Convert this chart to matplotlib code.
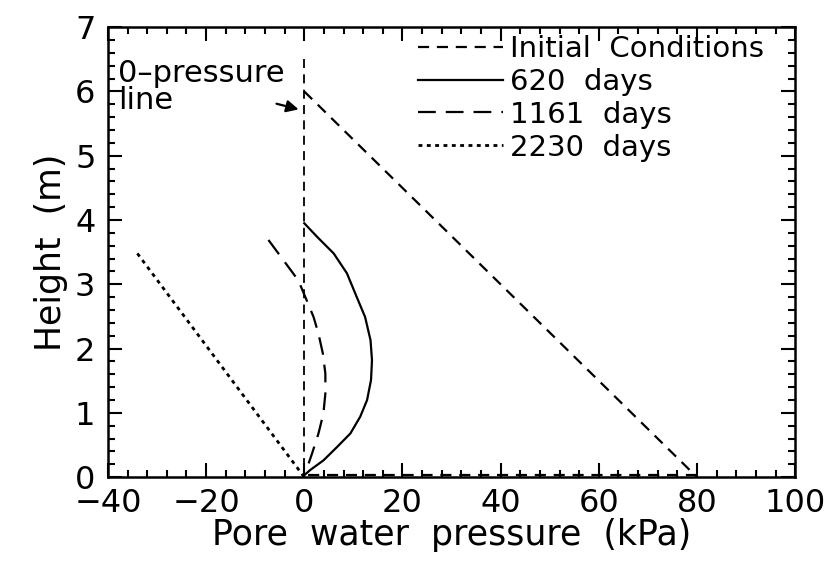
import matplotlib
matplotlib.use("Agg")
import matplotlib.pyplot as plt
from matplotlib.ticker import MultipleLocator, FuncFormatter

plt.rcParams['font.family'] = ['DejaVu Sans']

# Initial conditions (kPa, m)
init_p = [0, 80, 80, 0]
init_h = [6.0, 0.0, 0.03, 0.03]
# zero pressure line
zero_p = [0, 0]
zero_h = [6.5, 0.0]
# 620 days
d620_p = [0.0, 2.6, 6.0, 8.7, 10.7, 12.4, 13.5, 13.8, 13.6, 12.8, 11.4, 9.4, 6.7, 3.9, 1.2, 0.0]
d620_h = [3.95, 3.74, 3.48, 3.17, 2.80, 2.49, 2.13, 1.82, 1.51, 1.20, 0.94, 0.68, 0.47, 0.26, 0.11, 0.03]
# 1161 days
d1161_p = [-7.3, -4.2, -1.2, 0.5, 1.9, 2.9, 3.8, 4.3, 4.3, 3.9, 2.9, 1.6, 0.2]
d1161_h = [3.69, 3.37, 3.06, 2.75, 2.49, 2.23, 1.92, 1.61, 1.30, 0.99, 0.68, 0.37, 0.06]
# 2230 days
d2230_p = [-34.0, 0.0]
d2230_h = [3.48, 0.0]

labels = ['Initial  Conditions', '620  days', '1161  days', '2230  days']

fig = plt.figure(figsize=(8.3, 5.66), dpi=100)
ax = fig.add_axes([0.130, 0.157, 0.828, 0.795])

lw = 1.6
l0, = ax.plot(init_p[:2], init_h[:2], color='black', lw=lw, dashes=(5, 3.5))
ax.plot(init_p[2:], init_h[2:], color='black', lw=lw, dashes=(5, 3.5))
ax.plot(zero_p, zero_h, color='black', lw=1.3, dashes=(5, 3.5))
l1, = ax.plot(d620_p, d620_h, color='black', lw=lw)
l2, = ax.plot(d1161_p, d1161_h, color='black', lw=lw, dashes=(8, 4.5))
l3, = ax.plot(d2230_p, d2230_h, color='black', lw=lw + 0.4, dashes=(1.4, 1.6))

ax.set_xlim(-40, 100)
ax.set_ylim(0, 7)
ax.xaxis.set_major_locator(MultipleLocator(20))
ax.xaxis.set_minor_locator(MultipleLocator(4))
ax.yaxis.set_major_locator(MultipleLocator(1))
ax.yaxis.set_minor_locator(MultipleLocator(0.2))
ax.xaxis.set_major_formatter(FuncFormatter(lambda v, p: ('%d' % round(v)).replace('-', '\u2212')))
ax.tick_params(which='both', direction='in', top=True, right=True, width=1.5, labelsize=23)
ax.tick_params(which='major', length=10)
ax.tick_params(axis='x', which='major', pad=8)
ax.tick_params(axis='y', which='major', pad=9)
ax.tick_params(which='minor', length=5)
for s in ax.spines.values():
    s.set_linewidth(1.8)

ax.set_xlabel('Pore  water  pressure  (kPa)', fontsize=25, labelpad=-1)
ax.set_ylabel('Height  (m)', fontsize=25, labelpad=5)

leg = ax.legend([l0, l1, l2, l3], labels, loc='upper right', bbox_to_anchor=(0.98, 1.022),
                frameon=False, fontsize=21, handlelength=2.9, handletextpad=0.25,
                labelspacing=0.17, borderaxespad=0.2)

ax.text(-38.0, 5.64, '0\u2013pressure\nline', fontsize=22, va='bottom', ha='left', linespacing=0.9)
ax.annotate('', xy=(-0.6, 5.71), xytext=(-6.2, 5.82),
            arrowprops=dict(arrowstyle='-|>', color='black', lw=1.6, mutation_scale=18))

fig.savefig('out.png', dpi=100)
